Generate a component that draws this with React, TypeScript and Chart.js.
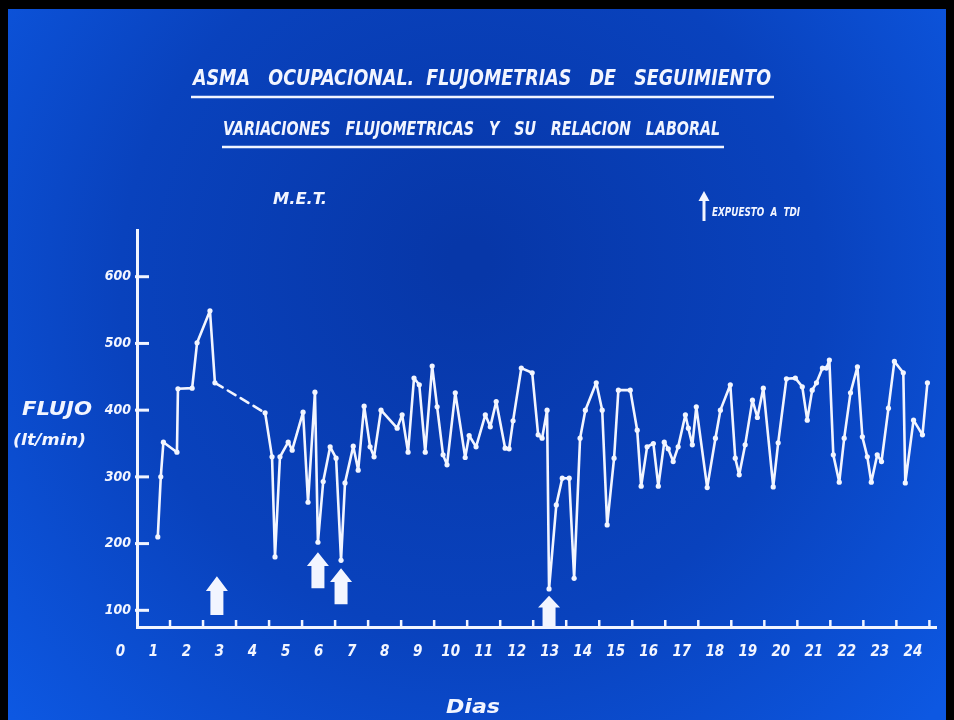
import React, { useEffect, useRef } from "react";
import { Chart, registerables } from "chart.js";

Chart.register(...registerables);

// ---- data ----
const days: number[] = [
  0.63, 0.72, 0.8, 1.21, 1.24, 1.67, 1.82, 2.21, 2.36, 3.88,
  4.09, 4.18, 4.33, 4.58, 4.7, 5.03, 5.18, 5.39, 5.48, 5.64,
  5.85, 6.03, 6.18, 6.3, 6.55, 6.7, 6.88, 7.06, 7.18, 7.39,
  7.88, 8.03, 8.21, 8.39, 8.55, 8.73, 8.94, 9.09, 9.27, 9.39,
  9.64, 9.94, 10.06, 10.27, 10.55, 10.7, 10.88, 11.15, 11.27, 11.39,
  11.64, 11.97, 12.15, 12.27, 12.42, 12.48, 12.7, 12.88, 13.09, 13.24,
  13.42, 13.58, 13.91, 14.09, 14.24, 14.45, 14.58, 14.94, 15.15, 15.27,
  15.45, 15.64, 15.79, 15.97, 16.09, 16.24, 16.39, 16.61, 16.7, 16.82,
  16.94, 17.27, 17.52, 17.67, 17.97, 18.12, 18.24, 18.42, 18.64, 18.79,
  18.97, 19.27, 19.42, 19.67, 19.94, 20.15, 20.3, 20.45, 20.58, 20.76,
  20.88, 20.97, 21.09, 21.27, 21.42, 21.61, 21.82, 21.97, 22.12, 22.24,
  22.42, 22.55, 22.76, 22.94, 23.21, 23.27, 23.52, 23.79, 23.94,
];

const flow: number[] = [
  210, 300, 352, 337, 432, 433, 501, 549, 441, 396,
  330, 180, 330, 352, 340, 397, 262, 427, 202, 293,
  345, 328, 175, 291, 346, 310, 406, 345, 330, 400,
  373, 393, 337, 448, 438, 337, 466, 405, 333, 318,
  426, 329, 362, 345, 393, 375, 413, 343, 342, 384,
  463, 456, 363, 358, 400, 132, 258, 298, 298, 148,
  358, 400, 441, 400, 228, 328, 430, 430, 370, 286,
  345, 350, 286, 352, 342, 323, 345, 393, 373, 348,
  405, 284, 358, 400, 438, 328, 303, 348, 415, 389,
  433, 285, 351, 447, 448, 435, 385, 430, 441, 463,
  463, 475, 333, 292, 358, 426, 465, 360, 330, 292,
  333, 323, 403, 473, 456, 291, 385, 363, 441,
];

// segment starting at this day is drawn dashed (missing readings)
const dashedFromDay = 2.36;

const yTickValues: number[] = [100, 200, 300, 400, 500, 600];
const dayLabels: string[] = [
  "0", "1", "2", "3", "4", "5", "6", "7", "8", "9", "10", "11", "12",
  "13", "14", "15", "16", "17", "18", "19", "20", "21", "22", "23", "24",
];

// exposure arrows (day, tip value, base value)
const arrowDays: number[] = [2.42, 5.48, 6.18, 12.48];
const arrowTips: number[] = [151, 187, 163, 122];
const arrowBases: number[] = [93, 133, 109, 75];

const titleLine1 = "ASMA   OCUPACIONAL.  FLUJOMETRIAS   DE   SEGUIMIENTO";
const titleLine2 = "VARIACIONES   FLUJOMETRICAS   Y   SU   RELACION   LABORAL";
const patientLabel = "M.E.T.";
const legendLabel = "EXPUESTO  A  TDI";
const yTitle1 = "FLUJO";
const yTitle2 = "(lt/min)";
const xTitle = "Dias";

const FONT = '"DejaVu Sans Condensed", "Liberation Sans Narrow", "DejaVu Sans", sans-serif';
const INK = "#f2f5ff";

function drawFit(
  ctx: CanvasRenderingContext2D,
  text: string,
  x1: number,
  x2: number,
  yMid: number,
  size: number
) {
  ctx.save();
  ctx.font = `italic bold ${size}px ${FONT}`;
  const w = ctx.measureText(text).width;
  const sx = (x2 - x1) / w;
  ctx.translate(x1, yMid);
  ctx.scale(sx, 1);
  ctx.textBaseline = "middle";
  ctx.textAlign = "left";
  ctx.fillStyle = INK;
  ctx.fillText(text, 0, 0);
  ctx.restore();
}

function drawBlockArrow(ctx: CanvasRenderingContext2D, cx: number, tipY: number, baseY: number) {
  const len = baseY - tipY;
  const headH = len * 0.38;
  const headW = 11;
  const shaftW = 6.5;
  ctx.beginPath();
  ctx.moveTo(cx, tipY);
  ctx.lineTo(cx + headW, tipY + headH);
  ctx.lineTo(cx + shaftW, tipY + headH);
  ctx.lineTo(cx + shaftW, baseY);
  ctx.lineTo(cx - shaftW, baseY);
  ctx.lineTo(cx - shaftW, tipY + headH);
  ctx.lineTo(cx - headW, tipY + headH);
  ctx.closePath();
  ctx.fill();
}

const slidePlugin = {
  id: "slide",
  beforeDraw(chart: any) {
    const ctx: CanvasRenderingContext2D = chart.ctx;
    const W = chart.width;
    const H = chart.height;
    ctx.save();
    ctx.fillStyle = "#000000";
    ctx.fillRect(0, 0, W, H);
    const g = ctx.createRadialGradient(470, 260, 20, 470, 300, 620);
    g.addColorStop(0, "#0737a8");
    g.addColorStop(0.55, "#0942bd");
    g.addColorStop(1, "#0d58e2");
    ctx.fillStyle = g;
    ctx.fillRect(8, 9, W - 16, H - 9);
    ctx.restore();
  },
  afterDatasetsDraw(chart: any) {
    const ctx: CanvasRenderingContext2D = chart.ctx;
    const xs = chart.scales.x;
    const ys = chart.scales.y;
    const area = chart.chartArea;
    ctx.save();
    ctx.strokeStyle = INK;
    ctx.fillStyle = INK;
    ctx.lineCap = "butt";

    // y tick marks (inside)
    ctx.lineWidth = 3;
    yTickValues.forEach((v) => {
      const y = ys.getPixelForValue(v);
      ctx.beginPath();
      ctx.moveTo(area.left - 2, y);
      ctx.lineTo(area.left + 12, y);
      ctx.stroke();
    });

    // x tick marks (day boundaries) and day labels centred in each day
    ctx.lineWidth = 2.5;
    dayLabels.forEach((lab, i) => {
      if (i > 0) {
        const x = xs.getPixelForValue(i);
        ctx.beginPath();
        ctx.moveTo(x, area.bottom);
        ctx.lineTo(x, area.bottom - 7);
        ctx.stroke();
      }
      const xc = xs.getPixelForValue(i - 0.5);
      ctx.font = `italic bold 15px ${FONT}`;
      ctx.textAlign = "center";
      ctx.textBaseline = "middle";
      ctx.fillText(lab, xc, area.bottom + 25);
    });

    // exposure arrows
    arrowDays.forEach((d, i) => {
      const cx = xs.getPixelForValue(d);
      drawBlockArrow(ctx, cx, ys.getPixelForValue(arrowTips[i]), ys.getPixelForValue(arrowBases[i]));
    });

    // titles
    drawFit(ctx, titleLine1, 193, 771, 79, 22);
    ctx.lineWidth = 2.5;
    ctx.beginPath();
    ctx.moveTo(191, 97);
    ctx.lineTo(774, 97);
    ctx.stroke();
    drawFit(ctx, titleLine2, 223, 720, 130, 19);
    ctx.beginPath();
    ctx.moveTo(222, 147);
    ctx.lineTo(724, 147);
    ctx.stroke();

    drawFit(ctx, patientLabel, 273, 327, 200, 16);

    // legend arrow + label
    ctx.lineWidth = 3;
    ctx.beginPath();
    ctx.moveTo(704, 221);
    ctx.lineTo(704, 198);
    ctx.stroke();
    ctx.beginPath();
    ctx.moveTo(704, 191);
    ctx.lineTo(698.5, 201);
    ctx.lineTo(709.5, 201);
    ctx.closePath();
    ctx.fill();
    drawFit(ctx, legendLabel, 712, 800, 213, 12);

    drawFit(ctx, yTitle1, 22, 92, 410, 19);
    drawFit(ctx, yTitle2, 13, 86, 441, 16);
    drawFit(ctx, xTitle, 446, 500, 708, 19);
    ctx.restore();
  },
};

export default function App() {
  const ref = useRef<HTMLCanvasElement | null>(null);

  useEffect(() => {
    if (!ref.current) return;
    const points = days.map((d, i) => ({ x: d, y: flow[i] }));
    const chart = new Chart(ref.current, {
      type: "line",
      data: {
        datasets: [
          {
            data: points,
            borderColor: INK,
            borderWidth: 2.6,
            borderJoinStyle: "round",
            borderCapStyle: "round",
            pointRadius: 2.6,
            pointBackgroundColor: INK,
            pointBorderWidth: 0,
            tension: 0,
            segment: {
              borderDash: (c: any) => (c.p0.parsed.x === dashedFromDay ? [9, 6] : undefined),
            },
          },
        ],
      },
      options: {
        responsive: false,
        devicePixelRatio: 1,
        animation: false,
        layout: { padding: { left: 100, right: 18, top: 230, bottom: 0 } },
        plugins: {
          legend: { display: false },
          tooltip: { enabled: false },
          title: { display: false },
        },
        scales: {
          x: {
            type: "linear",
            min: 0,
            max: 24.2,
            grid: { display: true, drawOnChartArea: false, drawTicks: false },
            border: { display: true, color: INK, width: 3 },
            ticks: { display: false },
            afterFit: (s: any) => {
              s.height = 93;
            },
          },
          y: {
            type: "linear",
            min: 75,
            max: 670,
            grid: { display: true, drawOnChartArea: false, drawTicks: false },
            border: { display: true, color: INK, width: 3 },
            afterBuildTicks: (s: any) => {
              s.ticks = yTickValues.map((v) => ({ value: v }));
            },
            ticks: {
              color: INK,
              padding: 6,
              font: { family: FONT, size: 14, weight: "bold", style: "italic" },
            },
            afterFit: (s: any) => {
              s.width = 37;
            },
          },
        },
      },
      plugins: [slidePlugin],
    } as any);
    return () => chart.destroy();
  }, []);

  return (
    <div style={{ position: "absolute", left: 0, top: 0, width: 954, height: 720 }}>
      <canvas ref={ref} width={954} height={720} style={{ display: "block", width: 954, height: 720 }} />
    </div>
  );
}
